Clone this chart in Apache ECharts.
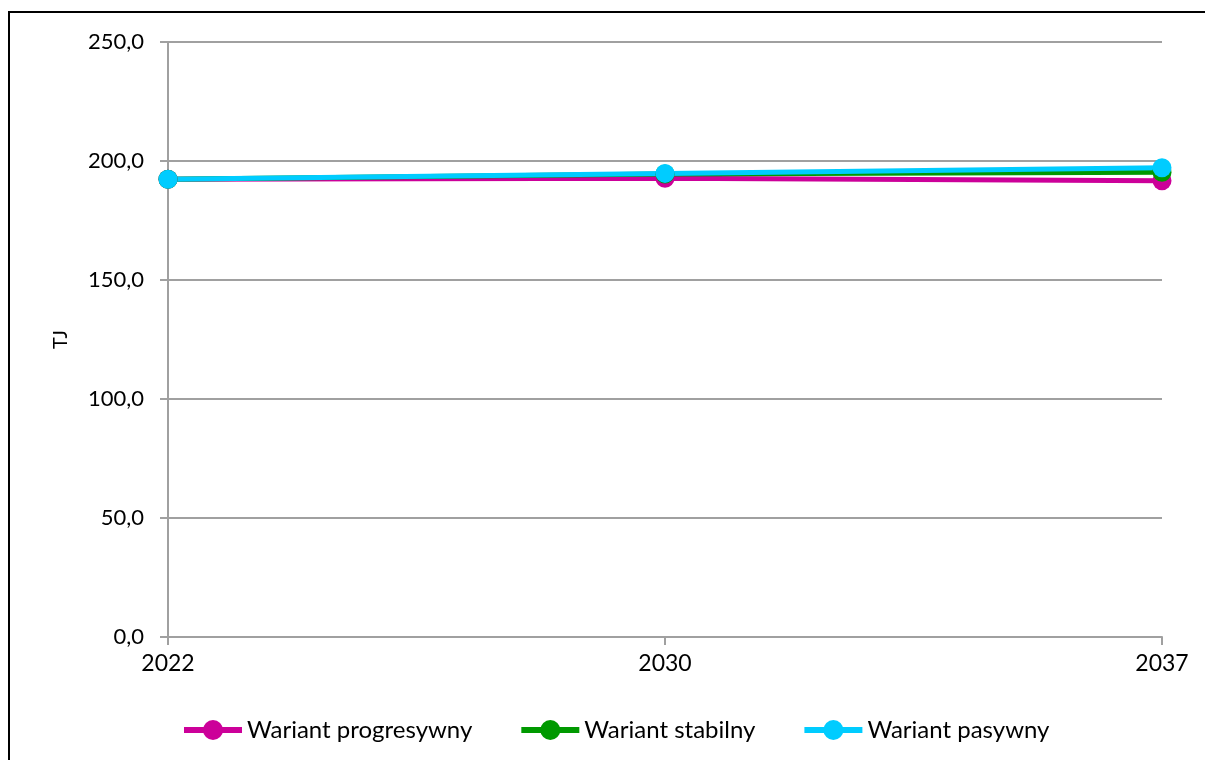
<!DOCTYPE html>
<html>
<head>
<meta charset="utf-8">
<script src="https://cdn.jsdelivr.net/npm/echarts@6/dist/echarts.min.js"></script>
<style>
  html, body { margin: 0; padding: 0; background: #fff; }
  #chart { width: 1205px; height: 760px; }
</style>
</head>
<body>
<div id="chart"></div>
<script>
// Zużycie energii w wariantach scenariuszy [TJ]
const years = ['2022', '2030', '2037'];
const progresywny = [192.3, 192.7, 191.7];
const stabilny = [192.3, 194.5, 195.3];
const pasywny = [192.3, 194.8, 197.2];
const yTicks = { min: 0, max: 250, interval: 50 };

const FONT = 'Lato';
const GRID_COLOR = '#a0a0a0';

function makeSeries(name, data, color) {
  return {
    name: name,
    type: 'line',
    data: data,
    symbol: 'circle',
    symbolSize: 19,
    lineStyle: { color: color, width: 5 },
    itemStyle: { color: color },
    emphasis: { disabled: true },
    animation: false
  };
}

const chart = echarts.init(document.getElementById('chart'));
chart.setOption({
  animation: false,
  backgroundColor: '#ffffff',
  grid: { left: 168, right: 43, top: 42, bottom: 123, containLabel: false },
  graphic: [{
    type: 'rect',
    shape: { x: 9, y: 12, width: 1400, height: 1000 },
    style: { fill: 'none', stroke: '#000', lineWidth: 2 },
    silent: true
  }],
  legend: {
    left: 176,
    top: 713,
    itemWidth: 58,
    itemHeight: 25,
    itemGap: 46,
    itemTextGap: 0,
    lineStyle: { width: 6 },
    textStyle: { fontFamily: FONT, fontSize: 24, color: '#000' },
    data: ['Wariant progresywny', 'Wariant stabilny', 'Wariant pasywny']
  },
  xAxis: {
    type: 'category',
    data: years,
    boundaryGap: false,
    axisLine: { lineStyle: { color: GRID_COLOR, width: 2 } },
    axisTick: { show: true, length: 8, alignWithLabel: true, lineStyle: { color: GRID_COLOR, width: 2 } },
    axisLabel: { fontFamily: FONT, fontSize: 23, color: '#000', margin: 15 },
    splitLine: { show: false }
  },
  yAxis: {
    type: 'value',
    min: yTicks.min,
    max: yTicks.max,
    interval: yTicks.interval,
    name: 'TJ',
    nameLocation: 'middle',
    nameRotate: 90,
    nameGap: 97,
    nameTextStyle: { fontFamily: FONT, fontSize: 20, color: '#000' },
    axisLine: { show: true, lineStyle: { color: GRID_COLOR, width: 2 } },
    axisTick: { show: true, length: 8, lineStyle: { color: GRID_COLOR, width: 2 } },
    axisLabel: {
      fontFamily: FONT, fontSize: 22, color: '#000', margin: 24,
      formatter: v => v.toFixed(1).replace('.', ',')
    },
    splitLine: { show: true, lineStyle: { color: GRID_COLOR, width: 2 } }
  },
  series: [
    makeSeries('Wariant progresywny', progresywny, '#cc0099'),
    makeSeries('Wariant stabilny', stabilny, '#009900'),
    makeSeries('Wariant pasywny', pasywny, '#00ccff')
  ]
});
</script>
</body>
</html>
